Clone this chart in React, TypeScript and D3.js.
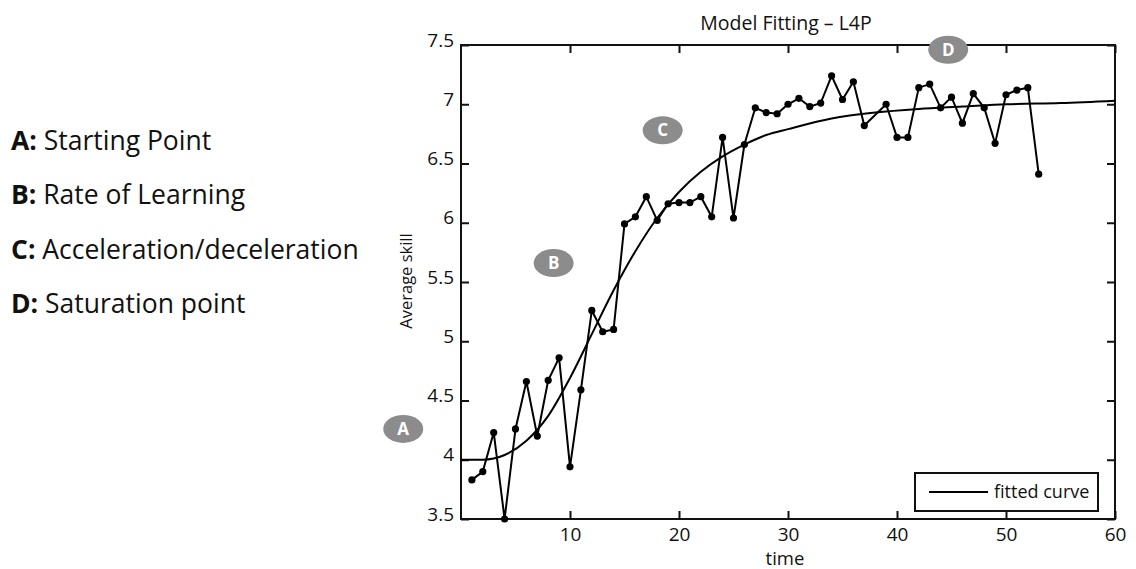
import { useEffect, useRef } from 'react';
import * as d3 from 'd3';

// observed skill per time step (no sample at t = 38)
const timePoints = [
    1, 2, 3, 4, 5, 6, 7, 8, 9, 10, 11, 12, 13, 14, 15, 16, 17, 18, 19, 20,
    21, 22, 23, 24, 25, 26, 27, 28, 29, 30, 31, 32, 33, 34, 35, 36, 37,
    39, 40, 41, 42, 43, 44, 45, 46, 47, 48, 49, 50, 51, 52, 53,
];
const avgSkill = [
    3.83, 3.90, 4.23, 3.50, 4.26, 4.66, 4.20, 4.67, 4.86, 3.94, 4.59, 5.26, 5.08, 5.10, 5.99, 6.05, 6.22, 6.02, 6.16, 6.17,
    6.17, 6.22, 6.05, 6.72, 6.04, 6.66, 6.97, 6.93, 6.92, 7.00, 7.05, 6.98, 7.01, 7.24, 7.04, 7.19, 6.82,
    7.00, 6.72, 6.72, 7.14, 7.17, 6.97, 7.06, 6.84, 7.09, 6.97, 6.67, 7.08, 7.12, 7.14, 6.41,
];

// fitted L4P curve
const fitTime = [0, 2, 4, 6, 8, 10, 12, 14, 16, 18, 20, 22, 24, 26, 28, 30, 34, 38, 42, 46, 50, 55, 60];
const fitSkill = [4.00, 4.00, 4.04, 4.16, 4.37, 4.69, 5.06, 5.43, 5.76, 6.04, 6.26, 6.43, 6.56, 6.66, 6.74, 6.79, 6.88, 6.93, 6.96, 6.98, 7.00, 7.01, 7.03];

const xTicks = [10, 20, 30, 40, 50, 60];
const yTicks = [3.5, 4, 4.5, 5, 5.5, 6, 6.5, 7, 7.5];

// grey letter bubbles (in data units)
const markerLetters = ['A', 'B', 'C', 'D'];
const markerTime = [-5.3, 8.5, 18.5, 44.7];
const markerSkill = [4.26, 5.66, 6.78, 7.46];

const noteKeys = ['A:', 'B:', 'C:', 'D:'];
const noteTexts = ['Starting Point', 'Rate of Learning', 'Acceleration/deceleration', 'Saturation point'];

const FONT = '"Open Sans", "DejaVu Sans", sans-serif';

export default function App() {
    const svgRef = useRef<SVGSVGElement>(null);

    useEffect(() => {
        if (!svgRef.current) return;
        const svg = d3.select(svgRef.current);
        svg.selectAll('*').remove();

        const left = 461, right = 1115, top = 45, bottom = 519;
        const x = d3.scaleLinear().domain([0, 60]).range([left, right]);
        const y = d3.scaleLinear().domain([3.5, 7.5]).range([bottom, top]);

        svg.style('font-family', FONT);

        // left side notes
        const notes = svg.append('g');
        noteKeys.forEach((k, i) => {
            const t = notes.append('text')
                .attr('x', 11)
                .attr('y', 150 + i * 54.3)
                .style('font-size', '26.5px')
                .style('fill', '#111');
            t.append('tspan').style('font-weight', 'bold').text(k);
            t.append('tspan').text(' ' + noteTexts[i]);
        });

        // axes (ticks inward on all sides)
        const tickLen = 8;
        const bottomAxis = svg.append('g')
            .attr('transform', `translate(0,${bottom})`)
            .call(d3.axisBottom(x).tickValues(xTicks).tickSize(-tickLen).tickPadding(0));
        bottomAxis.selectAll('text')
            .attr('y', 22)
            .attr('dy', 0)
            .style('font-size', '19px')
            .style('font-family', FONT)
            .style('fill', '#111');

        svg.append('g')
            .attr('transform', `translate(0,${top})`)
            .call(d3.axisTop(x).tickValues(xTicks).tickSize(-tickLen).tickFormat(() => ''));

        const leftAxis = svg.append('g')
            .attr('transform', `translate(${left},0)`)
            .call(d3.axisLeft(y).tickValues(yTicks).tickSize(-tickLen).tickPadding(0).tickFormat(d3.format('')));
        leftAxis.selectAll('text')
            .attr('x', -7)
            .attr('y', 1)
            .attr('dy', 0)
            .style('font-size', '19px')
            .style('font-family', FONT)
            .style('fill', '#111');

        svg.append('g')
            .attr('transform', `translate(${right},0)`)
            .call(d3.axisRight(y).tickValues(yTicks).tickSize(-tickLen).tickFormat(() => ''));

        svg.selectAll('.domain').remove();
        svg.selectAll('.tick line').attr('stroke', '#111').attr('stroke-width', 2);

        svg.append('rect')
            .attr('x', left)
            .attr('y', top)
            .attr('width', right - left)
            .attr('height', bottom - top)
            .attr('fill', 'none')
            .attr('stroke', '#111')
            .attr('stroke-width', 2);

        // labels
        svg.append('text')
            .attr('x', 786)
            .attr('y', 30)
            .attr('text-anchor', 'middle')
            .style('font-size', '19.5px')
            .style('fill', '#111')
            .text('Model Fitting \u2013 L4P');

        svg.append('text')
            .attr('x', 785)
            .attr('y', 565)
            .attr('text-anchor', 'middle')
            .style('font-size', '18.5px')
            .style('fill', '#111')
            .text('time');

        svg.append('text')
            .attr('transform', `translate(412,281) rotate(-90)`)
            .attr('text-anchor', 'middle')
            .style('font-size', '16.5px')
            .style('fill', '#111')
            .text('Average skill');

        // fitted curve
        const fitLine = d3.line<number>()
            .x((_, i) => x(fitTime[i]))
            .y(d => y(d))
            .curve(d3.curveMonotoneX);
        svg.append('path')
            .attr('d', fitLine(fitSkill))
            .attr('fill', 'none')
            .attr('stroke', '#000')
            .attr('stroke-width', 2);

        // observed data
        const dataLine = d3.line<number>()
            .x((_, i) => x(timePoints[i]))
            .y(d => y(d));
        svg.append('path')
            .attr('d', dataLine(avgSkill))
            .attr('fill', 'none')
            .attr('stroke', '#000')
            .attr('stroke-width', 2);

        svg.append('g')
            .selectAll('circle')
            .data(avgSkill)
            .join('circle')
            .attr('cx', (_, i) => x(timePoints[i]))
            .attr('cy', d => y(d))
            .attr('r', 3.6)
            .attr('fill', '#000');

        // letter bubbles
        const bubbles = svg.append('g')
            .selectAll('g')
            .data(markerLetters)
            .join('g')
            .attr('transform', (_, i) => `translate(${x(markerTime[i])},${y(markerSkill[i])})`);
        bubbles.append('ellipse')
            .attr('rx', 20)
            .attr('ry', 14)
            .attr('fill', '#8c8c8c');
        bubbles.append('text')
            .attr('text-anchor', 'middle')
            .attr('dy', '0.36em')
            .style('font-size', '17px')
            .style('font-weight', 'bold')
            .style('fill', '#fff')
            .text(d => d);

        // legend
        const lg = svg.append('g');
        lg.append('rect')
            .attr('x', 915)
            .attr('y', 473)
            .attr('width', 183)
            .attr('height', 38)
            .attr('fill', '#fff')
            .attr('stroke', '#111')
            .attr('stroke-width', 2);
        lg.append('line')
            .attr('x1', 929)
            .attr('x2', 988)
            .attr('y1', 492)
            .attr('y2', 492)
            .attr('stroke', '#000')
            .attr('stroke-width', 2);
        lg.append('text')
            .attr('x', 994)
            .attr('y', 498)
            .style('font-size', '18px')
            .style('fill', '#111')
            .text('fitted curve');
    }, []);

    return (
        <svg
            ref={svgRef}
            width={1136}
            height={569}
            style={{ position: 'absolute', left: 0, top: 0, background: '#fff' }}
        />
    );
}
